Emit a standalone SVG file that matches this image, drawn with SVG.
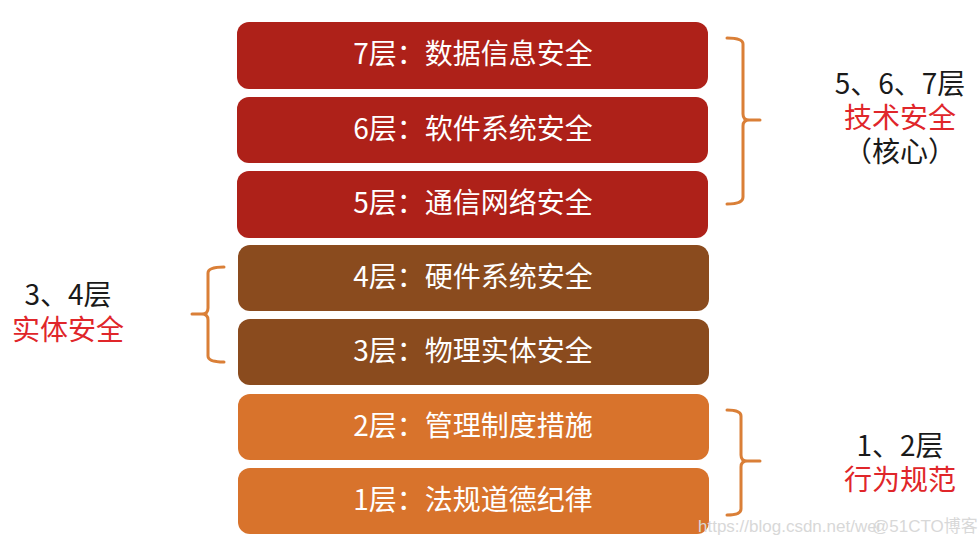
<svg xmlns="http://www.w3.org/2000/svg" width="980" height="544" viewBox="0 0 980 544">
<style>
.box text{font-family:"Noto Sans CJK SC","Noto Sans",sans-serif;font-size:28px;fill:#fff;text-anchor:middle;dominant-baseline:central}
.red rect{fill:#AE2119}
.brown rect{fill:#8A4B1E}
.orange rect{fill:#D8732C}
.lbl{font-family:"Noto Sans CJK SC","Noto Sans",sans-serif;font-size:28px;text-anchor:middle;dominant-baseline:central}
.k{fill:#1a1a1a}
.r{fill:#E0262A}
.br{fill:none;stroke:#DA7F37;stroke-width:3;stroke-linecap:round;stroke-linejoin:round}
.wm{font-family:"Liberation Sans",sans-serif;font-size:17px;fill:#d8d8d8}
</style>
<rect width="980" height="544" fill="#fff"/>
<g id="layer7" class="box red"><rect x="237" y="22" width="471" height="67" rx="12"/><text x="473" y="52">7层：数据信息安全</text></g>
<g id="layer6" class="box red"><rect x="237" y="97" width="471" height="66" rx="12"/><text x="473" y="127">6层：软件系统安全</text></g>
<g id="layer5" class="box red"><rect x="237" y="171" width="471" height="67" rx="12"/><text x="473" y="201">5层：通信网络安全</text></g>
<g id="layer4" class="box brown"><rect x="238" y="245" width="471" height="66" rx="12"/><text x="473" y="275">4层：硬件系统安全</text></g>
<g id="layer3" class="box brown"><rect x="238" y="319" width="471" height="66" rx="12"/><text x="473" y="349">3层：物理实体安全</text></g>
<g id="layer2" class="box orange"><rect x="238" y="394" width="471" height="66" rx="12"/><text x="473" y="424">2层：管理制度措施</text></g>
<g id="layer1" class="box orange"><rect x="238" y="468" width="471" height="66" rx="12"/><text x="473" y="498">1层：法规道德纪律</text></g>
<g id="connectors">
<path class="br" d="M727,38 Q743,38 743,44 L743,114 Q743,120 749,120 L760,120 M749,120 Q743,120 743,126 L743,197 Q743,204 727,204"/>
<path class="br" d="M224,267 Q208,267 208,273 L208,308 Q208,314 202,314 L192,314 M202,314 Q208,314 208,320 L208,356 Q208,362 224,362"/>
<path class="br" d="M727,410 Q741,410 741,416 L741,455 Q741,461 747,461 L760,461 M747,461 Q741,461 741,467 L741,509 Q741,515 727,515"/>
</g>
<g id="label-tech">
<text class="lbl k" x="900" y="82">5、6、7层</text>
<text class="lbl r" x="900" y="116">技术安全</text>
<text class="lbl k" x="900" y="150">（核心）</text>
</g>
<g id="label-physical">
<text class="lbl k" x="68" y="293">3、4层</text>
<text class="lbl r" x="68" y="328">实体安全</text>
</g>
<g id="label-behavior">
<text class="lbl k" x="900" y="444">1、2层</text>
<text class="lbl r" x="900" y="478">行为规范</text>
</g>
<g id="watermark">
<text class="wm" x="698" y="532">https://blog.csdn.net/wei</text>
<text class="wm" x="872" y="532" style="font-family:'Liberation Sans','Noto Sans CJK SC',sans-serif">@51CTO博客</text>
</g>
</svg>
